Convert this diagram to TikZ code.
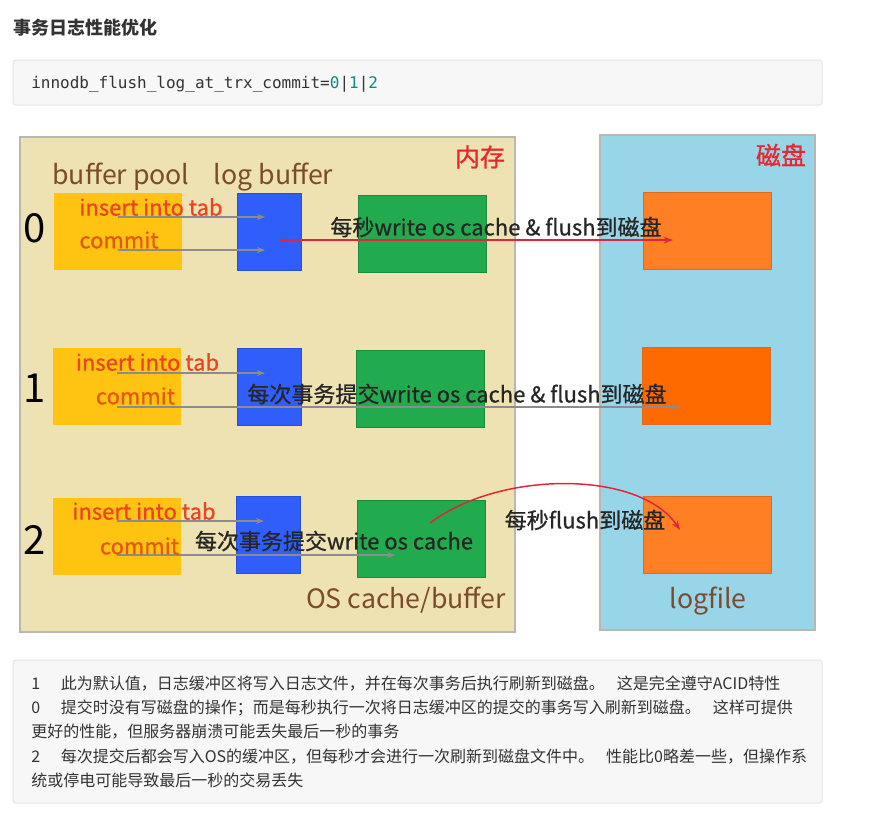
\documentclass[tikz,border=0pt]{standalone}
\usepackage{fontspec}
\setmainfont{Noto Sans CJK SC}
\newfontfamily\codefont{DejaVu Sans Mono}
\newfontfamily\labelfont{Noto Sans CJK SC}[FakeBold=0.8]
\usepackage{tikz}
\usetikzlibrary{arrows.meta, positioning}
\definecolor{memfill}{HTML}{EEE1B2}
\definecolor{diskfill}{HTML}{98D5E9}
\definecolor{framegray}{HTML}{B9B7AE}
\definecolor{poolyellow}{HTML}{FFC312}
\definecolor{logblue}{HTML}{2F5EFA}
\definecolor{cachegreen}{HTML}{22AB4E}
\definecolor{fileorange}{HTML}{FF7F24}
\definecolor{fileorangedark}{HTML}{FF6A00}
\definecolor{sqlred}{HTML}{EB4420}
\definecolor{commitred}{HTML}{E4570E}
\definecolor{labelbrown}{HTML}{7C4B2C}
\definecolor{flushred}{HTML}{E1243C}
\definecolor{areared}{HTML}{E8262E}
\definecolor{codeback}{HTML}{F7F7F7}
\definecolor{codeframe}{HTML}{E4E4E4}
\definecolor{numteal}{HTML}{0E8A80}
\definecolor{bodytext}{HTML}{333333}

\begin{document}
\begin{tikzpicture}[
  x=0.75pt, y=-0.75pt,
  panel/.style={rectangle, draw=codeframe, fill=codeback, rounded corners=2.25pt, line width=0.75pt, minimum width=606.75pt},
  area/.style={rectangle, draw=framegray, line width=1.5pt, minimum height=371.25pt},
  poolbox/.style={rectangle, fill=poolyellow, minimum width=96pt, minimum height=57.75pt, inner sep=0},
  logbox/.style={rectangle, fill=logblue, draw=logblue!85!black, line width=0.5pt, minimum width=48pt, minimum height=57.75pt, inner sep=0},
  cachebox/.style={rectangle, fill=cachegreen, draw=cachegreen!80!black, line width=0.75pt, minimum width=96pt, minimum height=57.75pt, inner sep=0},
  filebox/.style={rectangle, fill=fileorange, draw=fileorange!85!black, line width=0.5pt, minimum width=96pt, minimum height=58pt, inner sep=0},
  sqltext/.style={text=sqlred, font=\labelfont\fontsize{16.5}{18}\selectfont, inner sep=0},
  committext/.style={text=commitred, font=\labelfont\fontsize{16.5}{18}\selectfont, inner sep=0},
  headtext/.style={text=labelbrown, font=\fontsize{20}{22}\selectfont, inner sep=0},
  modetext/.style={text=black, font=\fontsize{30}{32}\selectfont, inner sep=0},
  steptext/.style={text=black!85, font=\labelfont\fontsize{16.5}{18}\selectfont, inner sep=0},
  areatext/.style={text=areared, font=\labelfont\fontsize{18.75}{20}\selectfont, inner sep=0},
  linetext/.style={text=bodytext, font=\fontsize{12}{14}\selectfont, inner sep=0, anchor=base west},
  movearrow/.style={-{Stealth[length=6pt,width=4.5pt]}, draw=gray!90, line width=1.1pt},
  flusharrow/.style={-{Stealth[length=7pt,width=5pt]}, draw=flushred, line width=1.1pt}
]
  \useasboundingbox (0,0) rectangle (877,815);

  % Heading and setting
  \node[anchor=base west, inner sep=0, text=black!80, font=\fontsize{13.5}{15}\selectfont\bfseries] (title) at (13,34) {事务日志性能优化};
  \node[panel, minimum height=33.75pt] (codepanel) at (417.5,82.5) {};
  \node[anchor=base west, inner sep=0, text=bodytext, font=\codefont\fontsize{12}{14}\selectfont] (codeline) at (31,88)
    {innodb\_flush\_log\_at\_trx\_commit=\textcolor{numteal}{0}|\textcolor{numteal}{1}|\textcolor{numteal}{2}};

  % Memory and disk
  \node[area, fill=memfill, minimum width=371.25pt] (mem) at (267.5,384.5) {};
  \node[area, fill=diskfill, minimum width=161.25pt] (disk) at (707.5,382.5) {};
  \node[areatext] (memlabel) at (480,157) {内存};
  \node[areatext] (disklabel) at (781,155) {磁盘};
  \node[headtext] (poolhead) at (121,177) {buffer pool};
  \node[headtext] (loghead) at (273.5,177) {log buffer};
  \node[headtext] (oshead) at (406,600) {OS cache/buffer};
  \node[headtext] (filehead) at (708,601) {logfile};

  % Mode 0
  \node[poolbox] (pool0) at (117.5,231.5) {};
  \node[logbox] (log0) at (269,231.5) {};
  \node[cachebox] (cache0) at (422,233.5) {};
  \node[filebox] (file0) at (707,231) {};
  \node[modetext] (mode0) at (35,228) {0};

  % Mode 1
  \node[poolbox] (pool1) at (117,386.5) {};
  \node[logbox] (log1) at (269,386.5) {};
  \node[cachebox] (cache1) at (420.5,388.5) {};
  \node[filebox, fill=fileorangedark] (file1) at (706.5,386) {};
  \node[modetext] (mode1) at (35,388) {1};

  % Mode 2
  \node[poolbox] (pool2) at (117,536) {};
  \node[logbox] (log2) at (268,535) {};
  \node[cachebox] (cache2) at (421,538.5) {};
  \node[filebox] (file2) at (707,535) {};
  \node[modetext] (mode2) at (35,540) {2};

  % Arrows
  \draw[movearrow] ([yshift=10.9pt]pool0.center) -- ([xshift=-3pt, yshift=10.9pt]log0.center);
  \draw[movearrow] ([yshift=-13.9pt]pool0.center) -- ([xshift=-3pt, yshift=-13.9pt]log0.center);
  \draw[flusharrow] ([xshift=8.25pt, yshift=-6.4pt]log0.center) -- ([xshift=-25.5pt, yshift=-6.4pt]file0.center |- log0.center);
  \draw[movearrow] ([yshift=10.1pt]pool1.center) -- ([xshift=-3pt, yshift=10.1pt]log1.center);
  \draw[movearrow] ([yshift=-15.4pt]pool1.center) -- ([xshift=-19.9pt, yshift=-15.4pt]file1.center |- pool1.center);
  \draw[movearrow] ([yshift=11.25pt]pool2.center) -- ([xshift=-3pt, yshift=11.25pt]log2.center |- pool2.center);
  \draw[movearrow] ([yshift=-14.25pt]pool2.center) -- ([xshift=-19.5pt, yshift=-14.25pt]cache2.center |- pool2.center);
  \draw[flusharrow] ([xshift=6.75pt, yshift=11.6pt]cache2.center) .. controls (500,470) and (640,470) .. ([xshift=-20.25pt, yshift=3.75pt]file2.center);

  % Texts in the rows
  \node[sqltext] (sql0) at (151,207) {insert into tab};
  \node[committext] (commit0) at (119,240) {commit};
  \node[sqltext] (sql1) at (147.5,362) {insert into tab};
  \node[committext] (commit1) at (135.5,396) {commit};
  \node[sqltext] (sql2) at (144,511) {insert into tab};
  \node[committext] (commit2) at (139.5,546) {commit};
  \node[steptext] (step0) at (496,227) {每秒write os cache \& flush到磁盘};
  \node[steptext] (step1) at (457,394) {每次事务提交write os cache \& flush到磁盘};
  \node[steptext] (step2) at (334,541) {每次事务提交write os cache};
  \node[steptext] (step2b) at (585,520) {每秒flush到磁盘};

  % Notes
  \node[panel, minimum height=107.25pt] (notepanel) at (417.5,731.5) {};
  \node[linetext] (line1) at (31,689) {1\hspace{15.5pt}此为默认值，日志缓冲区将写入日志文件，并在每次事务后执行刷新到磁盘。\hspace{9pt}这是完全遵守ACID特性};
  \node[linetext] (line2) at (31,713) {0\hspace{15.5pt}提交时没有写磁盘的操作；而是每秒执行一次将日志缓冲区的提交的事务写入刷新到磁盘。\hspace{9pt}这样可提供};
  \node[linetext] (line3) at (31,737) {更好的性能，但服务器崩溃可能丢失最后一秒的事务};
  \node[linetext] (line4) at (31,762) {2\hspace{15.5pt}每次提交后都会写入OS的缓冲区，但每秒才会进行一次刷新到磁盘文件中。\hspace{9pt}性能比0略差一些，但操作系};
  \node[linetext] (line5) at (31,786) {统或停电可能导致最后一秒的交易丢失};
\end{tikzpicture}
\end{document}
